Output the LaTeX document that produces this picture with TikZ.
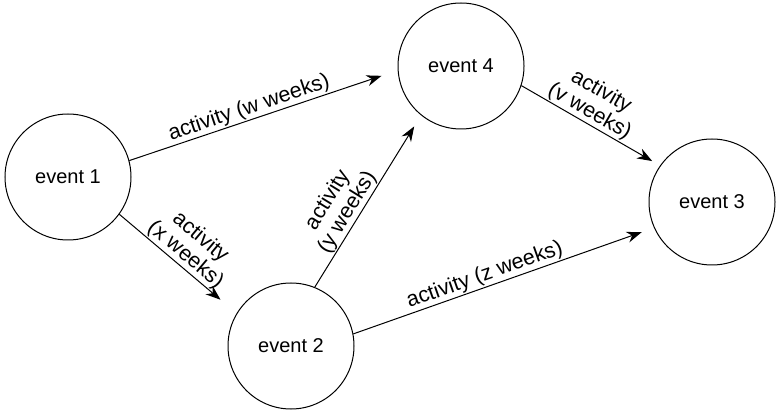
\documentclass[tikz,border=0pt]{standalone}
\usepackage{fontspec}
\setmainfont{Liberation Sans}
\usetikzlibrary{arrows.meta}

\begin{document}
\begin{tikzpicture}[x=1pt, y=-1pt, font=\fontsize{20}{23}\selectfont,
  main/.style = {draw, circle, minimum size=126pt, inner sep=0pt, line width=1pt},
  act/.style = {-{Stealth[length=15pt,width=11pt]}, line width=1pt},
  lbl/.style = {sloped, above, align=center, inner sep=1pt, font=\fontsize{21.5}{23}\selectfont}]
\useasboundingbox (0,0) rectangle (776,411);
\node[main] (1) at (68,177) {event 1};
\node[main] (2) at (291,346) {event 2};
\node[main] (3) at (712,202) {event 3};
\node[main] (4) at (461,66) {event 4};

\draw[act, shorten >=17pt] (1.15) -- node[lbl, pos=.46] {activity (w weeks)} (4.184);
\draw[act, shorten >=21pt] (1.-36) -- node[lbl, pos=.5] {activity\\(x weeks)} (2.149);
\draw[act, shorten >=13pt] (2.68) -- node[lbl, pos=.4] {activity\\(y weeks)} (4.231);
\draw[act, shorten >=9pt] (4.-18) -- node[lbl, pos=.45] {activity\\(v weeks)} (3.145);
\draw[act, shorten >=13pt] (2.11) -- node[lbl, pos=.45] {activity (z weeks)} (3.204);

\end{tikzpicture}
\end{document}
